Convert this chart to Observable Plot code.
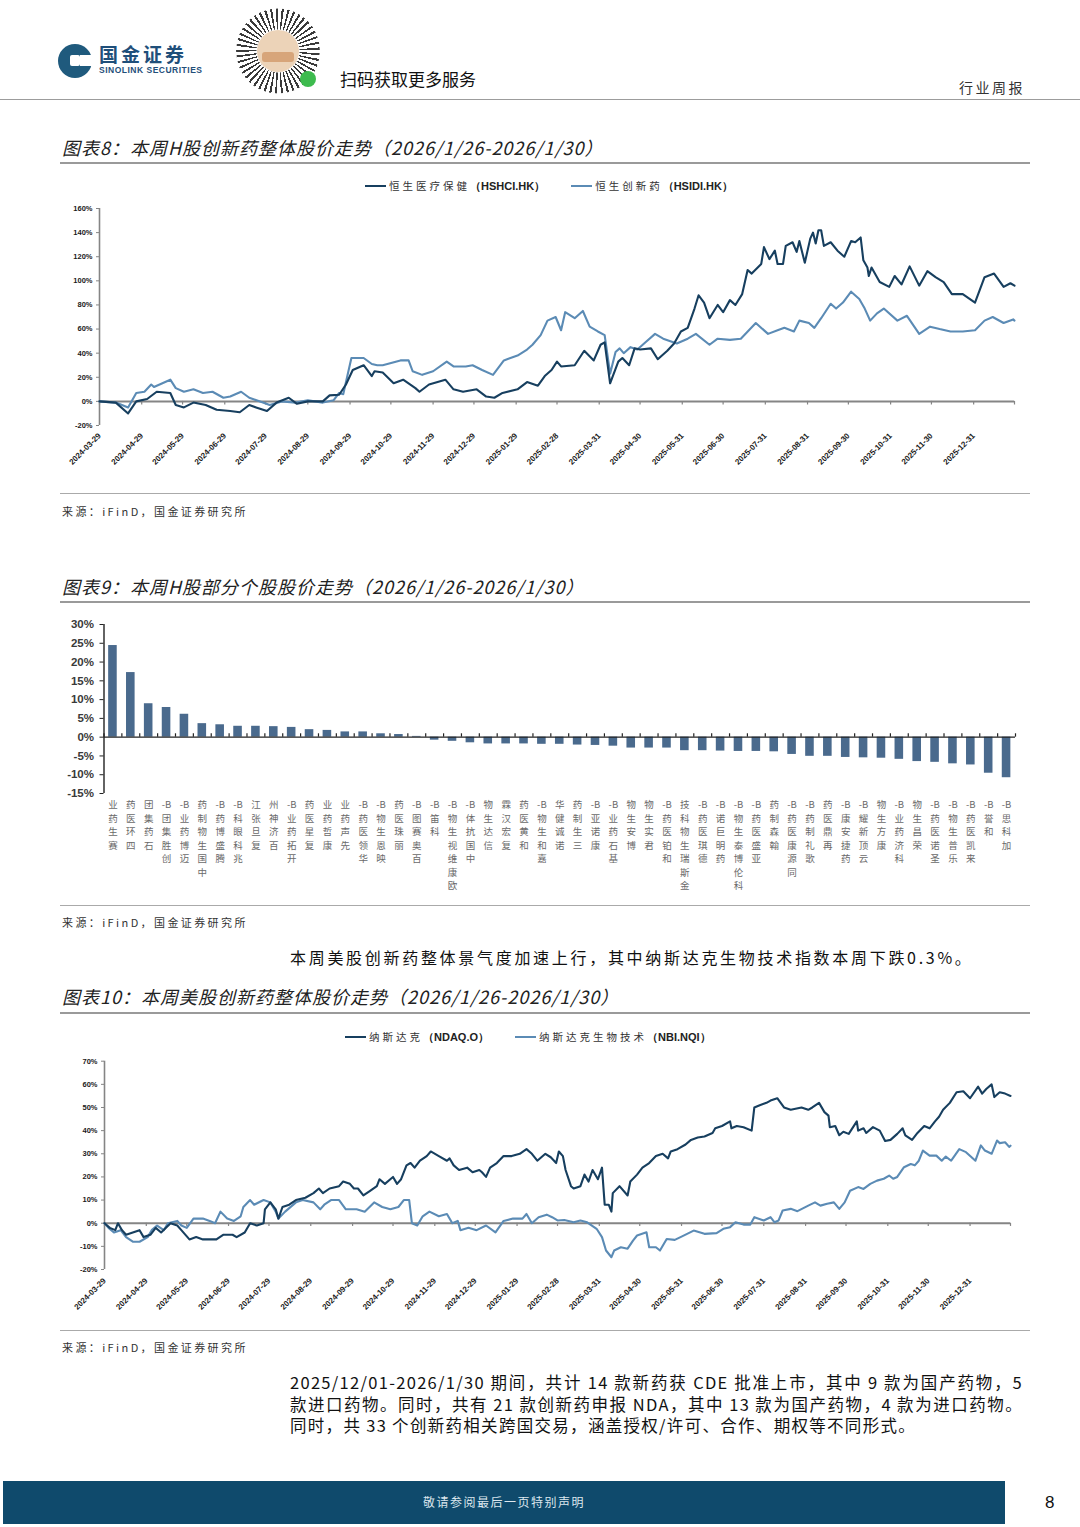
<!DOCTYPE html>
<html>
<head>
<meta charset="utf-8">
<script src="https://cdn.jsdelivr.net/npm/d3@7"></script>
<script src="https://cdn.jsdelivr.net/npm/@observablehq/plot@0.6"></script>
<style>
  html, body { margin: 0; padding: 0; background: #fff; }
  #page { position: relative; width: 1080px; height: 1527px; overflow: hidden; background: #fff;
          font-family: "Noto Sans CJK SC", "Liberation Sans", sans-serif; color: #222; }
  .abs { position: absolute; }
  .hline { position: absolute; height: 0; }
  .title { position: absolute; left: 62px; font-size: 18px; font-style: italic; color: #222; letter-spacing: 1px; white-space: nowrap; line-height: 22px; }
  .source { position: absolute; left: 62px; font-size: 11px; letter-spacing: 2.4px; color: #333; white-space: nowrap; line-height: 14px; }
  .legend { position: absolute; font-size: 10.5px; white-space: nowrap; line-height: 14px; display: flex; align-items: center; }
  .legend .sw { display: inline-block; width: 21px; height: 0; border-top: 2.4px solid; margin-right: 3px; }
  .legend .cn { letter-spacing: 3px; color: #333; }
  .legend .en { font-family: "Liberation Sans", Arial, sans-serif; font-weight: bold; font-size: 11px; color: #222; }
  .legend .item { display: flex; align-items: center; margin-right: 26px; }
  .para { position: absolute; left: 290px; width: 733px; font-size: 16.5px; color: #111; line-height: 21.5px; letter-spacing: 1.3px;
          font-family: "Liberation Sans Narrow", "Noto Sans CJK SC", sans-serif; }
  .para div { text-align: justify; white-space: nowrap; }
  .plotbox { position: absolute; left: 0; }
  .plotbox svg { overflow: visible; }
</style>
</head>
<body>
<div id="page">
  <!-- header -->
  <div class="abs" style="left:58px;top:44px;width:34px;height:34px;border-radius:50%;background:#1f5a7d;"></div>
  <div class="abs" style="left:80px;top:55px;width:13px;height:11px;background:#fff;"></div>
  <div class="abs" style="left:70px;top:55px;width:10px;height:11px;border-radius:2px;background:#fff;"></div>
  <div class="abs" style="left:99px;top:42px;font-size:19px;font-weight:bold;color:#1f4f7a;letter-spacing:3px;line-height:24px;">国金证券</div>
  <div class="abs" style="left:99px;top:65px;font-size:8.5px;font-weight:bold;color:#1f4f7a;font-family:'Liberation Sans',Arial,sans-serif;line-height:10px;letter-spacing:0.5px;">SINOLINK SECURITIES</div>
  <div class="abs" style="left:236px;top:8px;width:84px;height:86px;border-radius:50%;
       background: repeating-conic-gradient(from 5deg, #3a3a3a 0deg 3deg, #fff 3deg 8deg);
       -webkit-mask: radial-gradient(circle, transparent 0 21px, #000 22px 42px, transparent 43px);
       mask: radial-gradient(circle, transparent 0 21px, #000 22px 42px, transparent 43px);"></div>
  <div class="abs" style="left:257px;top:30px;width:42px;height:42px;border-radius:50%;background:#ecd3b8;"></div>
  <div class="abs" style="left:262px;top:52px;width:32px;height:10px;border-radius:3px;background:#d7a57a;"></div>
  <div class="abs" style="left:300px;top:71px;width:16px;height:16px;border-radius:50%;background:#3dbb4e;"></div>
  <div class="abs" style="left:340px;top:68px;font-size:17px;color:#111;line-height:22px;">扫码获取更多服务</div>
  <div class="abs" style="left:959px;top:78px;font-size:14px;color:#333;letter-spacing:2.5px;line-height:18px;">行业周报</div>
  <div class="hline" style="left:0;top:99px;width:1080px;border-top:1.6px solid #9c9c9c;"></div>

  <!-- chart 8 -->
  <div class="title" style="top:136px;">图表8：本周H股创新药整体股价走势（2026/1/26-2026/1/30）</div>
  <div class="hline" style="left:60px;top:162px;width:970px;border-top:2px solid #9a9a9a;"></div>
  <div class="legend" style="left:365px;top:179px;">
    <div class="item"><span class="sw" style="border-color:#173f5f"></span><span class="cn">恒生医疗保健</span><span class="en">（HSHCI.HK）</span></div>
    <div class="item"><span class="sw" style="border-color:#5b8bb5"></span><span class="cn">恒生创新药</span><span class="en">（HSIDI.HK）</span></div>
  </div>
  <div id="chart8" class="plotbox" style="top:195px;"></div>
  <div class="hline" style="left:60px;top:493px;width:970px;border-top:1.4px solid #aaa;"></div>
  <div class="source" style="top:504px;">来源：iFinD，国金证券研究所</div>

  <!-- chart 9 -->
  <div class="title" style="top:575px;">图表9：本周H股部分个股股价走势（2026/1/26-2026/1/30）</div>
  <div class="hline" style="left:60px;top:601px;width:970px;border-top:2px solid #9a9a9a;"></div>
  <div id="chart9" class="plotbox" style="top:612px;"></div>
  <div class="hline" style="left:60px;top:905px;width:970px;border-top:1.4px solid #aaa;"></div>
  <div class="source" style="top:915px;">来源：iFinD，国金证券研究所</div>

  <div class="para" style="top:947px;font-family:'Noto Sans CJK SC',sans-serif;letter-spacing:2.7px;font-size:16px;">
    <div>本周美股创新药整体景气度加速上行，其中纳斯达克生物技术指数本周下跌0.3%。</div>
  </div>

  <!-- chart 10 -->
  <div class="title" style="top:985px;">图表10：本周美股创新药整体股价走势（2026/1/26-2026/1/30）</div>
  <div class="hline" style="left:60px;top:1012px;width:970px;border-top:2px solid #9a9a9a;"></div>
  <div class="legend" style="left:345px;top:1030px;">
    <div class="item"><span class="sw" style="border-color:#173f5f"></span><span class="cn">纳斯达克</span><span class="en">（NDAQ.O）</span></div>
    <div class="item"><span class="sw" style="border-color:#5b8bb5"></span><span class="cn">纳斯达克生物技术</span><span class="en">（NBI.NQI）</span></div>
  </div>
  <div id="chart10" class="plotbox" style="top:1048px;"></div>
  <div class="hline" style="left:60px;top:1330px;width:970px;border-top:1.4px solid #aaa;"></div>
  <div class="source" style="top:1340px;">来源：iFinD，国金证券研究所</div>

  <div class="para" style="top:1372px;">
    <div style="text-align-last:justify;">2025/12/01-2026/1/30 期间，共计 14 款新药获 CDE 批准上市，其中 9 款为国产药物，5</div>
    <div style="text-align-last:justify;">款进口药物。同时，共有 21 款创新药申报 NDA，其中 13 款为国产药物，4 款为进口药物。</div>
    <div>同时，共 33 个创新药相关跨国交易，涵盖授权/许可、合作、期权等不同形式。</div>
  </div>

  <!-- footer -->
  <div class="abs" style="left:3px;top:1481px;width:1002px;height:43px;background:#0f4a6c;"></div>
  <div class="abs" style="left:3px;top:1494px;width:1002px;text-align:center;font-size:12px;color:#dde7ee;letter-spacing:1.5px;line-height:16px;">敬请参阅最后一页特别声明</div>
  <div class="abs" style="left:1045px;top:1492px;font-size:17px;color:#111;font-family:'Liberation Sans',Arial,sans-serif;line-height:22px;">8</div>
</div>

<script>
// ---------------- data ----------------
// Chart 8: H-share indices, cumulative return (%) since 2024-03-29
const hkTickLabels = ["2024-03-29","2024-04-29","2024-05-29","2024-06-29","2024-07-29","2024-08-29","2024-09-29","2024-10-29","2024-11-29","2024-12-29","2025-01-29","2025-02-28","2025-03-31","2025-04-30","2025-05-31","2025-06-30","2025-07-31","2025-08-31","2025-09-30","2025-10-31","2025-11-30","2025-12-31"];
const usTickLabels = hkTickLabels;
const endDate = "2026-01-30";
const hkYTicks = [-20,0,20,40,60,80,100,120,140,160];
const usYTicks = [-20,-10,0,10,20,30,40,50,60,70];
const barYTicks = [-15,-10,-5,0,5,10,15,20,25,30];

const hshci = [["2024-03-29",0],["2024-04-10",-1],["2024-04-19",-10],["2024-04-25",0],["2024-05-03",2],["2024-05-10",8],["2024-05-20",7],["2024-05-24",-3],["2024-05-30",-5],["2024-06-06",-1],["2024-06-15",-3],["2024-06-23",-7],["2024-07-03",-8],["2024-07-10",-9],["2024-07-17",-3],["2024-07-22",-5],["2024-07-30",-8],["2024-08-06",-1],["2024-08-15",3],["2024-08-21",-2],["2024-08-29",0],["2024-09-09",0],["2024-09-14",5],["2024-09-21",5.5],["2024-09-26",14],["2024-10-01",26],["2024-10-09",30],["2024-10-15",21],["2024-10-17",25],["2024-10-23",24],["2024-10-31",15],["2024-11-07",18],["2024-11-16",11],["2024-11-19",8],["2024-11-26",14],["2024-12-08",18],["2024-12-14",10],["2024-12-21",8],["2024-12-31",10],["2025-01-07",4],["2025-01-13",3],["2025-01-19",7],["2025-01-30",10],["2025-02-06",16],["2025-02-14",13],["2025-02-19",21],["2025-02-24",26],["2025-02-28",33],["2025-03-03",29],["2025-03-13",30],["2025-03-20",42],["2025-03-27",34],["2025-04-01",47],["2025-04-04",49],["2025-04-08",15],["2025-04-14",33],["2025-04-17",36],["2025-04-22",30],["2025-04-26",44],["2025-04-30",43],["2025-05-08",44],["2025-05-13",35],["2025-05-20",42],["2025-05-25",48],["2025-05-30",58],["2025-06-04",61],["2025-06-09",77],["2025-06-12",88],["2025-06-16",82],["2025-06-20",69],["2025-06-26",80],["2025-06-30",74],["2025-07-05",84],["2025-07-09",80],["2025-07-14",89],["2025-07-18",109],["2025-07-21",106],["2025-07-28",114],["2025-07-30",128],["2025-08-03",118],["2025-08-07",125],["2025-08-09",114],["2025-08-13",114],["2025-08-15",129],["2025-08-20",132],["2025-08-23",124],["2025-08-25",133],["2025-08-29",115],["2025-09-02",135],["2025-09-04",140],["2025-09-06",131],["2025-09-08",142],["2025-09-10",142],["2025-09-12",129],["2025-09-17",132],["2025-09-22",125],["2025-09-27",120],["2025-10-02",133],["2025-10-05",132],["2025-10-09",136],["2025-10-11",117],["2025-10-14",111],["2025-10-15",104],["2025-10-17",111],["2025-10-23",99],["2025-10-30",95],["2025-11-03",104],["2025-11-08",97],["2025-11-14",112],["2025-11-21",96],["2025-11-27",108],["2025-12-03",103],["2025-12-09",99],["2025-12-15",89],["2025-12-23",89],["2026-01-01",82],["2026-01-08",103],["2026-01-15",106],["2026-01-22",95],["2026-01-27",98],["2026-01-30",96]];

const hsidi = [["2024-03-29",0],["2024-04-10",-1],["2024-04-19",-5],["2024-04-25",7],["2024-05-01",8],["2024-05-06",14],["2024-05-08",12],["2024-05-20",18],["2024-05-24",11],["2024-05-30",8],["2024-06-06",10],["2024-06-13",7],["2024-06-20",8],["2024-06-28",3],["2024-07-03",4],["2024-07-11",8],["2024-07-17",3],["2024-07-27",-1],["2024-08-01",-3],["2024-08-10",0],["2024-08-20",-1],["2024-08-29",1],["2024-09-09",-1],["2024-09-17",1],["2024-09-21",7],["2024-09-24",6],["2024-09-30",36],["2024-10-09",36],["2024-10-15",31],["2024-10-19",30],["2024-10-23",30],["2024-11-05",34],["2024-11-11",34],["2024-11-14",25],["2024-11-21",22],["2024-11-29",25],["2024-12-09",33],["2024-12-14",29],["2024-12-23",29],["2024-12-28",30],["2025-01-04",26],["2025-01-12",22],["2025-01-20",34],["2025-01-30",38],["2025-02-06",43],["2025-02-10",47],["2025-02-16",55],["2025-02-21",67],["2025-02-27",70],["2025-03-03",59],["2025-03-06",74],["2025-03-13",69],["2025-03-19",75],["2025-03-24",62],["2025-03-30",58],["2025-04-04",55],["2025-04-08",23],["2025-04-12",41],["2025-04-15",44],["2025-04-18",40],["2025-04-23",45],["2025-04-28",43],["2025-05-04",49],["2025-05-11",56],["2025-05-17",52],["2025-05-27",48],["2025-06-04",52],["2025-06-10",56],["2025-06-20",47],["2025-06-26",52],["2025-07-05",51],["2025-07-13",52],["2025-07-24",65],["2025-08-02",56],["2025-08-09",59],["2025-08-14",61],["2025-08-21",58],["2025-08-25",67],["2025-09-01",65],["2025-09-05",61],["2025-09-10",69],["2025-09-17",81],["2025-09-21",77],["2025-09-26",82],["2025-10-02",91],["2025-10-08",85],["2025-10-12",77],["2025-10-16",67],["2025-10-21",73],["2025-10-26",77],["2025-11-05",67],["2025-11-12",71],["2025-11-21",56],["2025-11-29",62],["2025-12-06",60],["2025-12-14",58],["2025-12-23",58],["2026-01-01",59],["2026-01-08",67],["2026-01-14",70],["2026-01-22",65],["2026-01-29",68],["2026-01-30",67]];

// Chart 9: weekly change (%) of selected H-share stocks
const stockNames = ["赛生药业","四环医药","石药集团","创胜集团-B","迈博药业-B","中国生物制药","腾盛博药-B","兆科眼科-B","复旦张江","百济神州","开拓药业-B","复星医药","康哲药业","先声药业","华领医药-B","映恩生物-B","丽珠医药","百奥赛图-B","科笛-B","欧康维视生物-B","中国抗体-B","信达生物","复宏汉霖","和黄医药","嘉和生物-B","诺诚健华","三生制药","康诺亚-B","基石药业-B","博安生物","君实生物","和铂医药-B","金斯瑞生物科技","德琪医药-B","药明巨诺-B","科伦博泰生物-B","亚盛医药-B","翰森制药","同源康医药-B","歌礼制药-B","再鼎医药","药捷安康-B","云顶新耀-B","康方生物","科济药业-B","荣昌生物","圣诺医药-B","乐普生物-B","来凯医药-B","和誉-B","加科思-B"];
const stockChanges = [24.4,17.2,8.9,7.9,6.1,3.6,3.3,2.9,2.9,2.8,2.6,2.0,1.8,1.4,1.4,0.9,0.7,0.2,-0.8,-1.1,-1.5,-1.8,-1.8,-1.8,-1.9,-1.9,-2.1,-2.2,-2.4,-2.9,-2.9,-2.9,-3.6,-3.6,-3.7,-3.8,-3.8,-3.9,-4.6,-5.1,-5.1,-5.4,-5.5,-5.6,-5.9,-6.5,-6.7,-7.1,-7.4,-9.6,-10.8];

// Chart 10: US indices, cumulative return (%) since 2024-03-29
const ndaq = [["2024-03-29",0],["2024-04-02",-2],["2024-04-06",-3],["2024-04-08",0],["2024-04-11",-3],["2024-04-14",-5],["2024-04-24",-3],["2024-04-27",-6],["2024-05-02",-5],["2024-05-06",-2],["2024-05-10",-4],["2024-05-17",0],["2024-05-22",-1],["2024-05-25",-3],["2024-05-31",-7],["2024-06-05",-6],["2024-06-10",-7],["2024-06-15",-7],["2024-06-20",-7],["2024-06-25",-5],["2024-07-02",-5],["2024-07-05",-6],["2024-07-11",-4],["2024-07-15",0],["2024-07-20",-1],["2024-07-25",0],["2024-07-26",6],["2024-07-30",9],["2024-08-03",6],["2024-08-05",2],["2024-08-08",7],["2024-08-13",8],["2024-08-18",10],["2024-08-25",11],["2024-08-31",13],["2024-09-04",15],["2024-09-07",13],["2024-09-12",15],["2024-09-19",16],["2024-09-22",18],["2024-09-27",17],["2024-09-30",15],["2024-10-03",15],["2024-10-07",12],["2024-10-12",14],["2024-10-17",16],["2024-10-19",19],["2024-10-23",17],["2024-10-27",19],["2024-10-29",20],["2024-11-01",17],["2024-11-04",19],["2024-11-08",25],["2024-11-11",26],["2024-11-14",24],["2024-11-18",27],["2024-11-23",29],["2024-11-26",31],["2024-12-02",29],["2024-12-08",27],["2024-12-10",28],["2024-12-13",25],["2024-12-17",23],["2024-12-23",24],["2024-12-27",22],["2025-01-01",23],["2025-01-03",22],["2025-01-06",20],["2025-01-09",24],["2025-01-14",26],["2025-01-19",29],["2025-01-25",29],["2025-01-31",30],["2025-02-05",32],["2025-02-09",30],["2025-02-13",27],["2025-02-19",30],["2025-02-23",28.5],["2025-02-27",26],["2025-03-01",31],["2025-03-04",29],["2025-03-06",23],["2025-03-10",16],["2025-03-12",15],["2025-03-17",16],["2025-03-20",21],["2025-03-23",18],["2025-03-26",23],["2025-03-30",19],["2025-04-02",24],["2025-04-04",8],["2025-04-07",8],["2025-04-09",5],["2025-04-10",13],["2025-04-15",16],["2025-04-21",12],["2025-04-23",18],["2025-04-28",21],["2025-05-02",24],["2025-05-07",26],["2025-05-12",29],["2025-05-17",30],["2025-05-21",28],["2025-05-23",31],["2025-05-28",32],["2025-06-03",34],["2025-06-07",36],["2025-06-12",37],["2025-06-17",37.5],["2025-06-23",39],["2025-06-25",41],["2025-06-30",42],["2025-07-06",44],["2025-07-07",41],["2025-07-11",42],["2025-07-16",41.5],["2025-07-22",40],["2025-07-24",50],["2025-07-28",51],["2025-08-02",52],["2025-08-05",53],["2025-08-10",54],["2025-08-15",50],["2025-08-20",49],["2025-08-28",50],["2025-09-02",49],["2025-09-05",50],["2025-09-10",52],["2025-09-14",48],["2025-09-17",46.5],["2025-09-18",41.5],["2025-09-22",42],["2025-09-25",38],["2025-09-28",39.5],["2025-10-02",38.6],["2025-10-08",44],["2025-10-09",40],["2025-10-13",41],["2025-10-15",39],["2025-10-20",41.5],["2025-10-25",40],["2025-10-29",35.5],["2025-11-02",36],["2025-11-07",38.6],["2025-11-11",41],["2025-11-13",38],["2025-11-18",36],["2025-11-22",39],["2025-11-27",42],["2025-12-01",41],["2025-12-05",44],["2025-12-08",46],["2025-12-11",49],["2025-12-16",52],["2025-12-21",56.6],["2025-12-26",57],["2025-12-31",54],["2026-01-06",59],["2026-01-09",56],["2026-01-12",58],["2026-01-16",60],["2026-01-18",54.5],["2026-01-22",56.6],["2026-01-26",56],["2026-01-30",55]];

const nbi = [["2024-03-29",0],["2024-04-01",-2],["2024-04-05",-4],["2024-04-10",-3],["2024-04-14",-6],["2024-04-19",-8],["2024-04-24",-8],["2024-04-30",-6],["2024-05-03",-3],["2024-05-07",-1],["2024-05-12",-3],["2024-05-15",0],["2024-05-22",1],["2024-05-25",-1],["2024-05-29",-2],["2024-06-03",2],["2024-06-10",2],["2024-06-15",1],["2024-06-19",0],["2024-06-23",5],["2024-06-28",2],["2024-07-03",1],["2024-07-08",3],["2024-07-10",7],["2024-07-15",10],["2024-07-18",8],["2024-07-25",10],["2024-07-30",9],["2024-08-03",5],["2024-08-05",2],["2024-08-10",5],["2024-08-18",9],["2024-08-23",10],["2024-08-31",9],["2024-09-05",6],["2024-09-08",8],["2024-09-13",10],["2024-09-19",10],["2024-09-24",6],["2024-10-02",6],["2024-10-08",5],["2024-10-15",9],["2024-10-21",7],["2024-10-27",6],["2024-11-02",7],["2024-11-06",10],["2024-11-10",10],["2024-11-12",0],["2024-11-16",-1],["2024-11-20",3],["2024-11-25",5],["2024-12-02",3],["2024-12-08",4],["2024-12-12",0],["2024-12-16",1],["2024-12-18",-3],["2024-12-24",-2],["2024-12-30",-3],["2025-01-06",-1],["2025-01-13",-4],["2025-01-19",1],["2025-01-26",2],["2025-02-02",2],["2025-02-05",4],["2025-02-09",0],["2025-02-14",2.6],["2025-02-20",3.7],["2025-02-24",2.6],["2025-02-28",1.2],["2025-03-05",1.4],["2025-03-12",0.4],["2025-03-17",1.2],["2025-03-22",0.4],["2025-03-29",-2.4],["2025-04-02",-6],["2025-04-05",-11.8],["2025-04-09",-14.7],["2025-04-11",-11.8],["2025-04-16",-10.4],["2025-04-21",-11],["2025-04-25",-7.5],["2025-04-28",-5.3],["2025-05-05",-3.9],["2025-05-07",-10.4],["2025-05-12",-10.4],["2025-05-15",-11.8],["2025-05-20",-6.8],["2025-05-26",-7.2],["2025-05-31",-5.8],["2025-06-09",-3.2],["2025-06-17",-4.6],["2025-06-26",-4.3],["2025-07-01",-2.4],["2025-07-06",-1.7],["2025-07-10",0.4],["2025-07-16",-0.6],["2025-07-21",-0.6],["2025-07-24",2.6],["2025-07-31",1.2],["2025-08-05",2.6],["2025-08-08",0.4],["2025-08-11",1.2],["2025-08-14",5.5],["2025-08-20",6.2],["2025-08-25",5.2],["2025-09-02",7.6],["2025-09-07",9],["2025-09-11",7.6],["2025-09-16",8.4],["2025-09-21",9],["2025-09-25",6.2],["2025-09-29",9],["2025-10-03",14],["2025-10-09",15.6],["2025-10-13",14.8],["2025-10-18",17],["2025-10-23",18.4],["2025-10-28",19.2],["2025-11-01",20.6],["2025-11-04",19.2],["2025-11-07",20],["2025-11-12",24.2],["2025-11-17",25.6],["2025-11-20",25],["2025-11-23",27],["2025-11-26",31.4],["2025-12-01",29.2],["2025-12-06",29.2],["2025-12-10",27],["2025-12-13",28.8],["2025-12-17",27],["2025-12-23",32],["2025-12-28",30.7],["2026-01-04",27],["2026-01-08",33.6],["2026-01-11",31.4],["2026-01-16",30],["2026-01-20",35.7],["2026-01-22",34.6],["2026-01-26",35],["2026-01-29",33],["2026-01-30",33.5]];

// ---------------- rendering ----------------
const parse = d3.utcParse("%Y-%m-%d");
const fmt = d3.utcFormat("%Y-%m-%d");
const DARK = "#173f5f", LIGHT = "#5b8bb5", AXIS = "#858585";
const toRows = (arr) => arr.map(([d, v]) => ({date: parse(d), value: v}));

function lineChart({dark, light, labels, yTicks, yDomain, mt, mb, ml, mr, h, tickDown, labelPad}) {
  const labelDates = labels.map(parse);
  const allTicks = labelDates.concat([parse(endDate)]);
  return Plot.plot({
    width: 1080, height: h,
    marginLeft: ml, marginRight: mr, marginTop: mt, marginBottom: mb,
    style: {fontFamily: "'Liberation Sans', Arial, sans-serif", fontWeight: "bold", color: "#1a1a1a", background: "transparent", overflow: "visible"},
    x: {type: "utc", domain: [labelDates[0], parse(endDate)]},
    y: {domain: yDomain},
    marks: [
      Plot.ruleX([labelDates[0]], {stroke: AXIS, strokeWidth: 1.6}),
      Plot.ruleY([0], {stroke: AXIS, strokeWidth: 2}),
      Plot.ruleX(allTicks, {x: d => d, y1: 0, y2: tickDown, stroke: AXIS, strokeWidth: 1.2}),
      Plot.axisY({ticks: yTicks, tickFormat: d => d + "%", tickSize: 3, tickPadding: 4, stroke: AXIS, fontSize: 7.5, label: null}),
      Plot.axisX({ticks: labelDates, tickFormat: fmt, tickRotate: -45, tickSize: 0, tickPadding: labelPad, fontSize: 8, label: null}),
      Plot.line(toRows(light), {x: "date", y: "value", stroke: LIGHT, strokeWidth: 2.1}),
      Plot.line(toRows(dark), {x: "date", y: "value", stroke: DARK, strokeWidth: 2.1})
    ]
  });
}

document.getElementById("chart8").append(lineChart({
  dark: hshci, light: hsidi, labels: hkTickLabels, yTicks: hkYTicks, yDomain: [-20, 160],
  h: 280, mt: 13, mb: 50, ml: 99, mr: 66, tickDown: -3, labelPad: 9
}));

document.getElementById("chart10").append(lineChart({
  dark: ndaq, light: nbi, labels: usTickLabels, yTicks: usYTicks, yDomain: [-20, 70],
  h: 276, mt: 12.7, mb: 55, ml: 104, mr: 70, tickDown: -1.4, labelPad: 10
}));

// bar chart
const bars = stockNames.map((name, i) => ({name, value: stockChanges[i]}));
const bML = 103.5, bMR = 65;
const step = (1080 - bML - bMR) / stockNames.length;
const stackLabel = (name) => {
  const m = name.match(/^(.*?)(-B)?$/);
  const chars = Array.from(m[1]);
  if (m[2]) chars.push(m[2]);
  return chars.reverse().join("\n");
};
const chart9 = Plot.plot({
  width: 1080, height: 295,
  marginLeft: bML, marginRight: bMR, marginTop: 12, marginBottom: 114,
  style: {fontFamily: "'Liberation Sans', Arial, sans-serif", color: "#3a3a3a", background: "transparent", overflow: "visible"},
  x: {domain: stockNames, paddingInner: 0.52, paddingOuter: 0.26, axis: null},
  y: {domain: [-15, 30]},
  marks: [
    Plot.barY(bars, {x: "name", y: "value", fill: "#4a6a8d"}),
    Plot.ruleY([0], {stroke: "#222", strokeWidth: 1.4}),
    Plot.ruleX(stockNames, {x: d => d, y1: 0, y2: 0.9, dx: -step / 2, stroke: "#222", strokeWidth: 1.2}),
    Plot.ruleX(stockNames.slice(-1), {x: d => d, y1: 0, y2: 0.9, dx: step / 2, stroke: "#222", strokeWidth: 1.2}),
    Plot.ruleX(stockNames.slice(0, 1), {x: d => d, dx: -step / 2, stroke: "#222", strokeWidth: 1.4}),
    Plot.axisY({ticks: barYTicks, tickFormat: d => d + "%", tickSize: 4, tickPadding: 6, fontSize: 11.5, fontWeight: "bold", stroke: "#222", label: null}),
    Plot.text(stockNames, {x: d => d, frameAnchor: "bottom", lineAnchor: "top", dy: 5, text: stackLabel,
      fontSize: 9.5, lineHeight: 1.42, fill: "#6a6a6a", fontFamily: "'Noto Sans CJK SC', sans-serif"})
  ]
});
document.getElementById("chart9").append(chart9);
</script>
</body>
</html>
